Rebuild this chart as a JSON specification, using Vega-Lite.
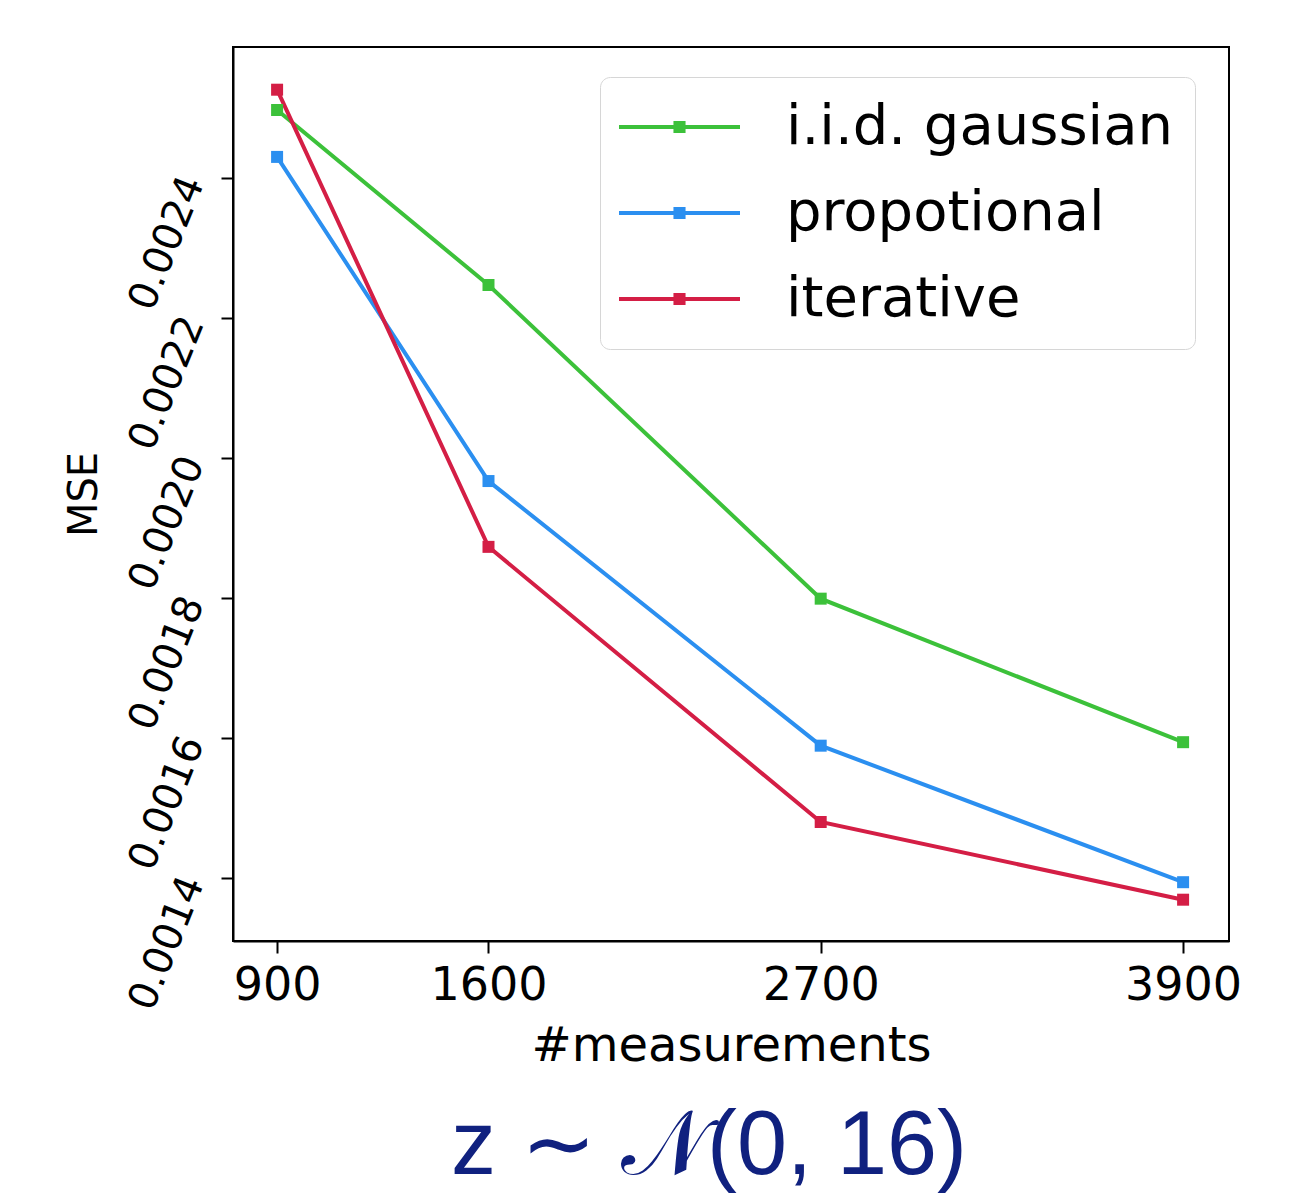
{
  "$schema": "https://vega.github.io/schema/vega-lite/v6.json",
  "autosize": {"type": "none"},
  "padding": {"left": 233, "top": 47, "right": 77, "bottom": 256},
  "width": 996,
  "height": 894,
  "background": "white",
  "title": {
    "text": "z ∼ 𝒩(0, 16)",
    "orient": "bottom",
    "font": "Liberation Sans",
    "fontSize": 90,
    "fontWeight": "normal",
    "color": "#10217f",
    "dx": -22,
    "offset": 104,
    "baseline": "alphabetic"
  },
  "config": {
    "view": {"stroke": "black", "strokeWidth": 2},
    "axis": {
      "labelFont": "DejaVu Sans",
      "titleFont": "DejaVu Sans",
      "labelColor": "black",
      "titleColor": "black",
      "titleFontWeight": "normal",
      "domainColor": "black",
      "domainWidth": 2,
      "tickColor": "black",
      "tickWidth": 2,
      "tickSize": 12,
      "grid": false,
      "labelOverlap": false
    }
  },
  "data": {
    "values": [
      {"n": 900, "mse": 0.002497, "method": "i.i.d. gaussian"},
      {"n": 1600, "mse": 0.002247, "method": "i.i.d. gaussian"},
      {"n": 2700, "mse": 0.001799, "method": "i.i.d. gaussian"},
      {"n": 3900, "mse": 0.001594, "method": "i.i.d. gaussian"},
      {"n": 900, "mse": 0.00243, "method": "propotional"},
      {"n": 1600, "mse": 0.001967, "method": "propotional"},
      {"n": 2700, "mse": 0.001589, "method": "propotional"},
      {"n": 3900, "mse": 0.001394, "method": "propotional"},
      {"n": 900, "mse": 0.002526, "method": "iterative"},
      {"n": 1600, "mse": 0.001873, "method": "iterative"},
      {"n": 2700, "mse": 0.00148, "method": "iterative"},
      {"n": 3900, "mse": 0.001369, "method": "iterative"}
    ]
  },
  "encoding": {
    "x": {
      "field": "n",
      "type": "quantitative",
      "scale": {"domain": [754, 4052], "nice": false, "zero": false},
      "axis": {
        "values": [900, 1600, 2700, 3900],
        "format": "d",
        "labelFontSize": 46,
        "labelPadding": 10,
        "title": "#measurements",
        "titleFontSize": 48,
        "titlePadding": 14
      }
    },
    "y": {
      "field": "mse",
      "type": "quantitative",
      "scale": {"domain": [0.00131, 0.002587], "nice": false, "zero": false},
      "axis": {
        "values": [0.0014, 0.0016, 0.0018, 0.002, 0.0022, 0.0024],
        "format": ".4f",
        "labelFontSize": 40,
        "labelAngle": -68,
        "labelAlign": "right",
        "labelBaseline": "middle",
        "labelPadding": 28,
        "title": "MSE",
        "titleFontSize": 40,
        "titlePadding": 18
      }
    },
    "color": {
      "field": "method",
      "type": "nominal",
      "scale": {
        "domain": ["i.i.d. gaussian", "propotional", "iterative"],
        "range": ["#3cc13a", "#2b8ff0", "#d41e45"]
      },
      "legend": {
        "orient": "none",
        "legendX": 367,
        "legendY": 30,
        "title": null,
        "symbolType": "M-1,-0.035L1,-0.035L1,0.035L-1,0.035Z M-0.1,-0.1L0.1,-0.1L0.1,0.1L-0.1,0.1Z",
        "symbolSize": 14641,
        "labelFont": "DejaVu Sans",
        "labelFontSize": 56,
        "labelColor": "black",
        "labelOffset": 43,
        "labelLimit": 1000,
        "padding": 22,
        "fillColor": "white",
        "strokeColor": "#d6d6d6",
        "cornerRadius": 10,
        "rowPadding": 30,
        "encode": {
          "symbols": {
            "update": {
              "fill": {"scale": "color", "field": "value"},
              "strokeWidth": {"value": 0},
              "opacity": {"value": 1},
              "y": {"value": 28},
              "x": {"value": 57.5}
            }
          },
          "labels": {
            "update": {
              "y": {"value": 28}
            }
          }
        }
      }
    }
  },
  "layer": [
    {"mark": {"type": "line", "strokeWidth": 4}},
    {"mark": {"type": "point", "shape": "square", "filled": true, "size": 144, "opacity": 1}}
  ]
}
